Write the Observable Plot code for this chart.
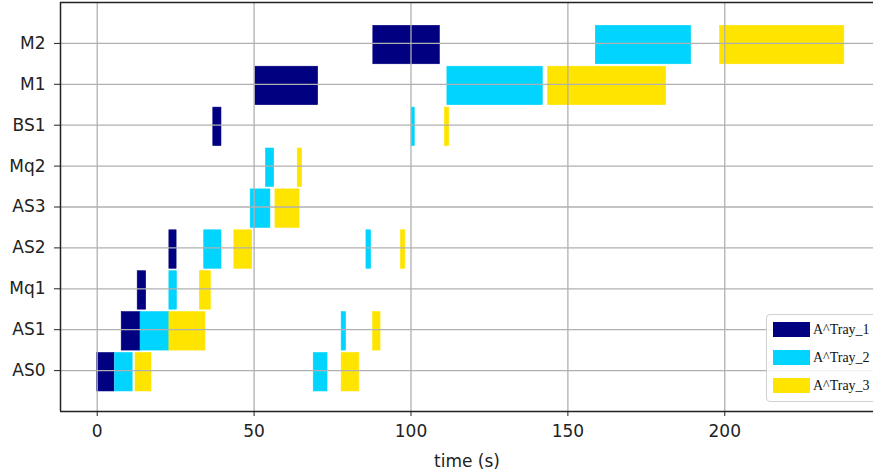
<!DOCTYPE html>
<html>
<head>
<meta charset="utf-8">
<script src="https://cdn.jsdelivr.net/npm/d3@7"></script>
<script src="https://cdn.jsdelivr.net/npm/@observablehq/plot@0.6"></script>
<style>
  html, body { margin: 0; padding: 0; background: #fff; }
  #wrap { position: relative; width: 873px; height: 476px; overflow: hidden; }
  #legend { position: absolute; left: 766px; top: 314px; width: 120px; height: 86px;
    border: 1px solid #d0d0d0; border-radius: 4px; background: rgba(255,255,255,0.85);
    font-family: "Liberation Serif", "DejaVu Serif", serif; font-size: 14px; color: #111; }
  .item { position: absolute; left: 6px; height: 15px; display: flex; align-items: center; white-space: nowrap; }
  .sw { width: 37px; height: 15px; margin-right: 3px; }
</style>
</head>
<body>
<div id="wrap"></div>
<script>
const categories = ["AS0", "AS1", "Mq1", "AS2", "AS3", "Mq2", "BS1", "M1", "M2"];
const series = ["A^Tray_1", "A^Tray_2", "A^Tray_3"];
const seriesColors = ["#000080", "#00d4ff", "#ffe400"];
const xTicks = [0, 50, 100, 150, 200];

// one entry per bar
const taskResource = [
  "AS0","AS0","AS0","AS0","AS0",
  "AS1","AS1","AS1","AS1","AS1",
  "Mq1","Mq1","Mq1",
  "AS2","AS2","AS2","AS2","AS2",
  "AS3","AS3",
  "Mq2","Mq2",
  "BS1","BS1","BS1",
  "M1","M1","M1",
  "M2","M2","M2"
];
const taskTray = [
  0,1,2,1,2,
  0,1,2,1,2,
  0,1,2,
  0,1,2,1,2,
  1,2,
  1,2,
  0,1,2,
  0,1,2,
  0,1,2
];
const taskStart = [
  0, 5.7, 12.2, 69.0, 77.9,
  7.8, 13.8, 23.0, 77.9, 87.9,
  12.9, 23.0, 32.7,
  23.0, 34.1, 43.7, 85.8, 96.8,
  48.9, 56.8,
  53.8, 63.9,
  37.0, 100.2, 110.8,
  50.4, 111.6, 143.7,
  88.0, 158.9, 198.5
];
const taskEnd = [
  5.5, 11.3, 17.3, 73.4, 83.5,
  13.8, 23.0, 34.5, 79.3, 90.3,
  15.6, 25.4, 36.2,
  25.3, 39.6, 49.4, 87.3, 98.2,
  55.2, 64.5,
  56.4, 65.3,
  39.6, 101.2, 112.2,
  70.4, 142.0, 181.3,
  109.2, 189.3, 238.1
];

const tasks = taskResource.map((r, i) => ({
  row: categories.indexOf(r),
  tray: series[taskTray[i]],
  start: taskStart[i],
  end: taskEnd[i]
}));

const xDomain = [-11.7, 247.4];
const yDomain = [-1, 9];
const fontFam = "'DejaVu Sans', sans-serif";

const chart = Plot.plot({
  width: 873,
  height: 476,
  marginLeft: 60,
  marginRight: 0,
  marginTop: 2,
  marginBottom: 65,
  style: { fontFamily: fontFam, fontSize: "17px", color: "#222", background: "#fff" },
  x: { domain: xDomain, label: "time (s)" },
  y: { domain: yDomain },
  color: { domain: series, range: seriesColors },
  marks: [
    Plot.rect(tasks, {
      x1: "start", x2: "end",
      y1: d => d.row - 0.51, y2: d => d.row + 0.43,
      fill: "tray", stroke: "tray", strokeWidth: 0.6
    }),
    Plot.gridX(xTicks, { stroke: "#b0b0b0", strokeOpacity: 1, strokeWidth: 1.3 }),
    Plot.gridY(d3.range(categories.length), { stroke: "#b0b0b0", strokeOpacity: 1, strokeWidth: 1.3 }),
    Plot.axisX(xTicks, {
      tickSize: 5, tickPadding: 8, stroke: "#222", fontSize: 17,
      label: "time (s)", labelAnchor: "center", labelArrow: "none", labelOffset: 55
    }),
    Plot.axisY(d3.range(categories.length), {
      tickSize: 6, tickPadding: 9, stroke: "#222", fontSize: 17,
      tickFormat: i => categories[i], label: null
    }),
    Plot.ruleX([xDomain[0]], { stroke: "#222", strokeWidth: 1.5 }),
    Plot.ruleY([yDomain[0]], { stroke: "#222", strokeWidth: 1.5 }),
    Plot.ruleY([yDomain[1]], { stroke: "#222", strokeWidth: 1.5 })
  ]
});

const wrap = document.getElementById("wrap");
wrap.appendChild(chart);

const legend = document.createElement("div");
legend.id = "legend";
series.forEach((s, i) => {
  const item = document.createElement("div");
  item.className = "item";
  item.style.top = (7 + i * 28.2) + "px";
  const sw = document.createElement("div");
  sw.className = "sw";
  sw.style.background = seriesColors[i];
  const lab = document.createElement("span");
  lab.textContent = s;
  item.appendChild(sw);
  item.appendChild(lab);
  legend.appendChild(item);
});
wrap.appendChild(legend);
</script>
</body>
</html>
